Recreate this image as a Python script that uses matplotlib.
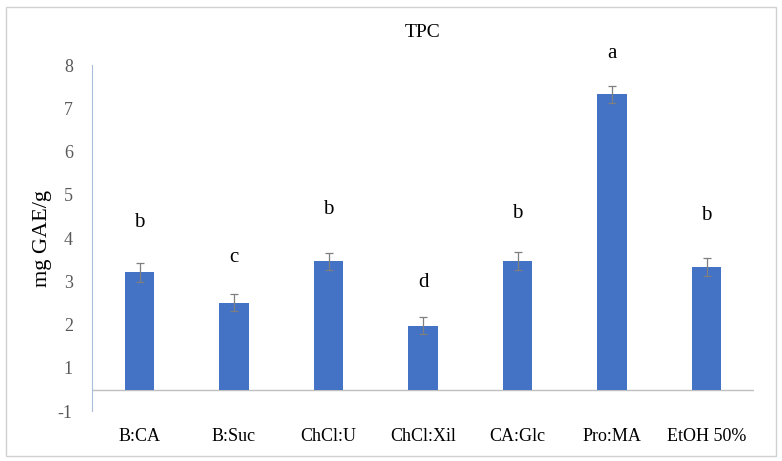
import matplotlib.pyplot as plt
from matplotlib.patches import Rectangle

categories = ["B:CA", "B:Suc", "ChCl:U", "ChCl:Xil", "CA:Glc", "Pro:MA", "EtOH 50%"]
tpc = [3.21, 2.51, 3.46, 1.98, 3.47, 7.32, 3.33]
err = [0.22, 0.2, 0.2, 0.2, 0.2, 0.2, 0.2]
letters = ["b", "c", "b", "d", "b", "a", "b"]
letter_y = [4.37, 3.56, 4.65, 2.98, 4.58, 8.26, 4.53]
tick_pos = [0, 1, 2, 3, 4, 5, 6, 7, 8]
tick_lab = ["-1", "1", "2", "3", "4", "5", "6", "7", "8"]
base = 0.5  # where the category axis crosses

plt.rcParams["font.family"] = "Liberation Serif"
fig = plt.figure(figsize=(7.82, 4.61), dpi=100)
fig.patches.append(Rectangle((0.008, 0.01), 0.984, 0.975, transform=fig.transFigure,
                             fill=False, edgecolor="#d0d0d0", lw=1))
ax = fig.add_axes([0.118, 0.108, 0.846, 0.751])

x = range(len(categories))
heights = [v - base for v in tpc]
ax.bar(x, heights, bottom=base, width=0.31, color="#4472C4", zorder=2)
ax.errorbar(x, tpc, yerr=err, fmt="none", ecolor="#7f7f7f", elinewidth=0.9,
            capsize=3, capthick=0.9, zorder=3)
for i, (l, y) in enumerate(zip(letters, letter_y)):
    ax.text(i, y, l, ha="center", va="center", fontsize=15, clip_on=False)

ax.axhline(base, color="#bfbfbf", lw=1, zorder=1)
ax.set_xlim(-0.5, 6.5)
ax.set_ylim(0, 8)
ax.set_xticks(list(x))
ax.set_xticklabels(categories, fontsize=13)
ax.set_yticks(tick_pos)
ax.set_yticklabels(tick_lab, fontsize=13, color="#595959")
ax.tick_params(length=0)
ax.tick_params(axis="x", pad=12)
ax.tick_params(axis="y", pad=14)
for s in ["top", "right", "bottom"]:
    ax.spines[s].set_visible(False)
ax.spines["left"].set_color("#a9bdd8")
ax.set_ylabel("mg GAE/g", fontsize=16)
fig.text(0.54, 0.93, "TPC", ha="center", va="center", fontsize=14)

fig.savefig("out.png", dpi=100)
